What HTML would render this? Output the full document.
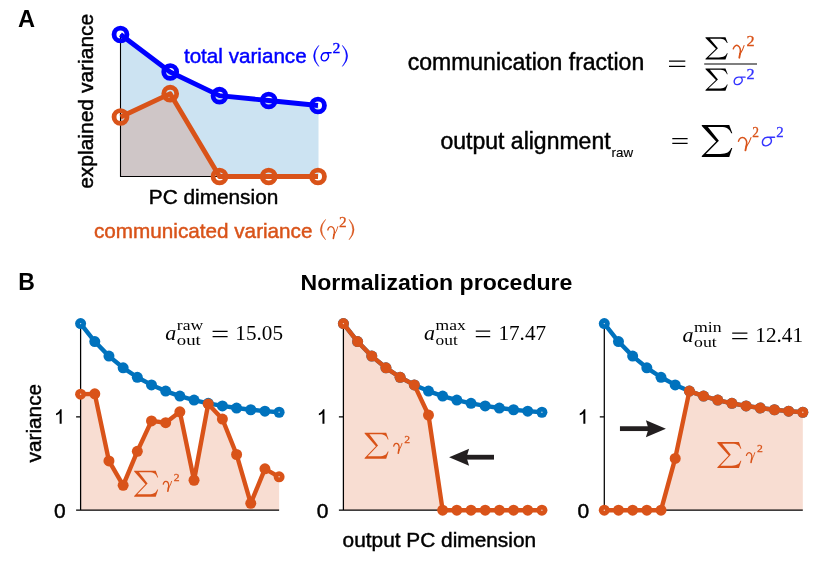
<!DOCTYPE html>
<html><head><meta charset="utf-8"><title>figure</title>
<style>
html,body{margin:0;padding:0;background:#fff;}
body{width:830px;height:567px;overflow:hidden;font-family:"Liberation Sans",sans-serif;}
svg{display:block;will-change:transform;}
</style></head>
<body>
<svg width="830" height="567" viewBox="0 0 830 567">
<rect width="830" height="567" fill="#fff"/>
<polygon points="120.50,34.50 170.20,72.00 219.50,95.70 268.70,100.50 318.50,105.55 318.50,176.50 120.50,176.50" fill="#cce3f2"/>
<polygon points="120.50,117.00 170.20,93.70 219.50,176.50 120.50,176.50" fill="#cfc6c7"/>
<path d="M120.5,34.5 V176.5 H222" fill="none" stroke="#000" stroke-width="1.1"/>
<polyline points="120.50,117.00 170.20,93.70 219.50,176.50 268.70,176.50 318.00,176.50" fill="none" stroke="#d95319" stroke-width="4.8" stroke-linejoin="round"/>
<polyline points="120.50,34.50 170.20,72.00 219.50,95.70 268.70,100.50 318.00,105.50" fill="none" stroke="#0000ff" stroke-width="4.8" stroke-linejoin="round"/>
<circle cx="120.5" cy="117.0" r="6.45" fill="none" stroke="#d95319" stroke-width="4.8"/>
<circle cx="170.2" cy="93.7" r="6.45" fill="none" stroke="#d95319" stroke-width="4.8"/>
<circle cx="219.5" cy="176.5" r="6.45" fill="none" stroke="#d95319" stroke-width="4.8"/>
<circle cx="268.7" cy="176.5" r="6.45" fill="none" stroke="#d95319" stroke-width="4.8"/>
<circle cx="318.0" cy="176.5" r="6.45" fill="none" stroke="#d95319" stroke-width="4.8"/>
<circle cx="120.5" cy="34.5" r="6.45" fill="none" stroke="#0000ff" stroke-width="4.8"/>
<circle cx="170.2" cy="72.0" r="6.45" fill="none" stroke="#0000ff" stroke-width="4.8"/>
<circle cx="219.5" cy="95.7" r="6.45" fill="none" stroke="#0000ff" stroke-width="4.8"/>
<circle cx="268.7" cy="100.5" r="6.45" fill="none" stroke="#0000ff" stroke-width="4.8"/>
<circle cx="318.0" cy="105.5" r="6.45" fill="none" stroke="#0000ff" stroke-width="4.8"/>
<text x="18.10" y="26.70" font-size="23.6" fill="#000" font-family="Liberation Sans, sans-serif" font-weight="bold">A</text>
<text transform="translate(92.6,101.3) rotate(-90)" text-anchor="middle" font-size="21" fill="#000" stroke="#000" stroke-width="0.45" font-family="Liberation Sans, sans-serif">explained variance</text>
<text x="148.80" y="203.80" font-size="20.8" fill="#000" font-family="Liberation Sans, sans-serif"  stroke="#000" stroke-width="0.45">PC dimension</text>
<text x="183.90" y="63.10" font-size="20.65" fill="#0000ff" font-family="Liberation Sans, sans-serif"  stroke="#0000ff" stroke-width="0.45">total variance</text>
<text x="94.00" y="237.80" font-size="20.7" fill="#d95319" font-family="Liberation Sans, sans-serif"  stroke="#d95319" stroke-width="0.45">communicated variance</text>
<path d="M318.80,45.40 Q308.40,55.90 318.80,66.40 Q310.90,55.90 318.80,45.40 Z" fill="#0000ff" stroke="#0000ff" stroke-width="0.5" stroke-linejoin="round"/>
<path d="M331.10,52.76 L325.14,52.76 C322.01,52.76 320.80,56.33 321.40,58.94 C322.01,61.37 325.24,61.55 327.06,59.46 C329.08,57.37 329.08,54.41 327.06,52.85" fill="none" stroke="#0000ff" stroke-width="1.4" stroke-linecap="round" stroke-linejoin="round"/>
<text transform="translate(332.43,52.50) scale(1.143,1)" font-size="13.76" fill="#0000ff" stroke="#0000ff" stroke-width="0.3" font-family="Liberation Serif, serif">2</text>
<path d="M342.40,45.40 Q352.80,55.90 342.40,66.40 Q350.30,55.90 342.40,45.40 Z" fill="#0000ff" stroke="#0000ff" stroke-width="0.5" stroke-linejoin="round"/>
<path d="M325.60,219.40 Q315.20,229.60 325.60,239.80 Q317.70,229.60 325.60,219.40 Z" fill="#d95319" stroke="#d95319" stroke-width="0.5" stroke-linejoin="round"/>
<path d="M327.80,229.98 C328.50,227.18 330.60,225.96 332.30,227.05 C334.20,228.27 334.60,231.93 334.05,234.74" fill="none" stroke="#d95319" stroke-width="1.32" stroke-linecap="round"/>
<path d="M334.05,234.50 L333.35,238.40" fill="none" stroke="#d95319" stroke-width="1.62" stroke-linecap="round"/>
<path d="M337.80,226.69 C337.00,229.86 335.60,232.54 334.20,234.74" fill="none" stroke="#d95319" stroke-width="0.90" stroke-linecap="round"/>
<text transform="translate(339.04,226.50) scale(1.111,1)" font-size="13.76" fill="#d95319" stroke="#d95319" stroke-width="0.3" font-family="Liberation Serif, serif">2</text>
<path d="M349.10,219.40 Q358.90,229.60 349.10,239.80 Q356.40,229.60 349.10,219.40 Z" fill="#d95319" stroke="#d95319" stroke-width="0.5" stroke-linejoin="round"/>
<text x="407.70" y="69.80" font-size="23" fill="#000" font-family="Liberation Sans, sans-serif"  stroke="#000" stroke-width="0.45">communication fraction</text>
<path d="M669.0,61.05 H685.3 M669.0,66.35 H685.3" stroke="#000" stroke-width="1.3" fill="none"/>
<path d="M0,0 L0.90,0 L1,0.26 L0.965,0.26 C0.91,0.12 0.82,0.06 0.62,0.06 L0.20,0.06 L0.56,0.49 L0.131,0.905 L0.60,0.905 C0.83,0.905 0.91,0.84 0.965,0.72 L1,0.72 L0.90,1 L0,1 L0,0.97 L0.47,0.515 L0,0.03 Z" fill="#000" transform="translate(705.50,37.30) scale(22.200,22.200)"/>
<path d="M733.27,48.86 C734.03,45.90 736.31,44.62 738.16,45.77 C740.22,47.06 740.65,50.91 740.06,53.87" fill="none" stroke="#d95319" stroke-width="1.49" stroke-linecap="round"/>
<path d="M740.06,53.61 L739.30,57.73" fill="none" stroke="#d95319" stroke-width="1.82" stroke-linecap="round"/>
<path d="M744.12,45.39 C743.26,48.73 741.74,51.56 740.22,53.87" fill="none" stroke="#d95319" stroke-width="1.01" stroke-linecap="round"/>
<text transform="translate(746.61,46.00) scale(1.176,1)" font-size="13.76" fill="#d95319" stroke="#d95319" stroke-width="0.3" font-family="Liberation Serif, serif">2</text>
<path d="M704.2,64 H757" stroke="#000" stroke-width="1.2"/>
<path d="M0,0 L0.90,0 L1,0.26 L0.965,0.26 C0.91,0.12 0.82,0.06 0.62,0.06 L0.20,0.06 L0.56,0.49 L0.131,0.905 L0.60,0.905 C0.83,0.905 0.91,0.84 0.965,0.72 L1,0.72 L0.90,1 L0,1 L0,0.97 L0.47,0.515 L0,0.03 Z" fill="#000" transform="translate(705.50,68.50) scale(22.200,22.200)"/>
<path d="M745.10,77.14 L738.49,77.14 C735.02,77.14 733.68,80.42 734.35,82.82 C735.02,85.06 738.60,85.22 740.62,83.30 C742.86,81.38 742.86,78.66 740.62,77.22" fill="none" stroke="#3333ff" stroke-width="1.4" stroke-linecap="round" stroke-linejoin="round"/>
<text transform="translate(746.61,78.80) scale(1.176,1)" font-size="13.76" fill="#3333ff" stroke="#3333ff" stroke-width="0.3" font-family="Liberation Serif, serif">2</text>
<text x="440.50" y="148.70" font-size="23" fill="#000" font-family="Liberation Sans, sans-serif"  stroke="#000" stroke-width="0.45">output alignment</text>
<text x="611.6" y="156.6" font-size="13.3" fill="#000" stroke="#000" stroke-width="0.15" font-family="Liberation Sans, sans-serif">raw</text>
<path d="M672.3,138.60 H687.6 M672.3,143.40 H687.6" stroke="#000" stroke-width="1.25" fill="none"/>
<path d="M0,0 L0.90,0 L1,0.26 L0.965,0.26 C0.91,0.12 0.82,0.06 0.62,0.06 L0.20,0.06 L0.56,0.49 L0.131,0.905 L0.60,0.905 C0.83,0.905 0.91,0.84 0.965,0.72 L1,0.72 L0.90,1 L0,1 L0,0.97 L0.47,0.515 L0,0.03 Z" fill="#000" transform="translate(701.80,125.00) scale(30.500,32.000)"/>
<path d="M738.50,141.15 C739.38,138.07 742.00,136.73 744.12,137.94 C746.50,139.28 747.00,143.30 746.31,146.38" fill="none" stroke="#d95319" stroke-width="1.54" stroke-linecap="round"/>
<path d="M746.31,146.11 L745.44,150.40" fill="none" stroke="#d95319" stroke-width="1.89" stroke-linecap="round"/>
<path d="M751.00,137.54 C750.00,141.02 748.25,143.97 746.50,146.38" fill="none" stroke="#d95319" stroke-width="1.05" stroke-linecap="round"/>
<text transform="translate(752.20,136.80) scale(0.940,1)" font-size="14.35" fill="#d95319" stroke="#d95319" stroke-width="0.3" font-family="Liberation Serif, serif">2</text>
<path d="M774.57,137.30 L767.23,137.30 C763.37,137.30 761.88,141.05 762.62,143.80 C763.37,146.36 767.35,146.54 769.59,144.34 C772.08,142.15 772.08,139.04 769.59,137.39" fill="none" stroke="#3333ff" stroke-width="1.45" stroke-linecap="round" stroke-linejoin="round"/>
<text transform="translate(776.16,136.80) scale(1.034,1)" font-size="14.35" fill="#3333ff" stroke="#3333ff" stroke-width="0.3" font-family="Liberation Serif, serif">2</text>
<text x="18.20" y="290.00" font-size="23" fill="#000" font-family="Liberation Sans, sans-serif" font-weight="bold">B</text>
<text transform="translate(300.5,289.6) scale(1.036,1)" font-size="22.3" font-weight="bold" fill="#000" font-family="Liberation Sans, sans-serif">Normalization procedure</text>
<polygon points="80.60,394.13 94.78,393.85 108.96,460.94 123.14,485.29 137.32,451.33 151.50,420.91 165.68,422.73 179.86,411.86 194.04,480.25 208.22,403.93 222.40,419.05 236.58,454.50 250.76,503.30 264.94,468.87 279.12,476.80 279.12,510.20 80.60,510.20" fill="#f8ddd2"/>
<path d="M80.6,323.60 V510.2 H279.12 M76.1,510.2 H80.6 M76.1,416.9 H80.6" fill="none" stroke="#000" stroke-width="1.25"/>
<polyline points="80.60,323.60 94.78,341.58 108.96,356.10 123.14,367.82 137.32,377.28 151.50,384.92 165.68,391.08 179.86,396.06 194.04,400.08 208.22,403.32 222.40,405.94 236.58,408.05 250.76,409.76 264.94,411.13 279.12,412.24" fill="none" stroke="#0072bd" stroke-width="4.4" stroke-linejoin="round"/>
<circle cx="80.60" cy="323.60" r="5.5" fill="#0072bd"/><circle cx="80.60" cy="323.60" r="0.7" fill="#c9dcea"/>
<circle cx="94.78" cy="341.58" r="5.5" fill="#0072bd"/>
<circle cx="108.96" cy="356.10" r="5.5" fill="#0072bd"/>
<circle cx="123.14" cy="367.82" r="5.5" fill="#0072bd"/>
<circle cx="137.32" cy="377.28" r="5.5" fill="#0072bd"/>
<circle cx="151.50" cy="384.92" r="5.5" fill="#0072bd"/>
<circle cx="165.68" cy="391.08" r="5.5" fill="#0072bd"/>
<circle cx="179.86" cy="396.06" r="5.5" fill="#0072bd"/>
<circle cx="194.04" cy="400.08" r="5.5" fill="#0072bd"/>
<circle cx="208.22" cy="403.32" r="5.5" fill="#0072bd"/>
<circle cx="222.40" cy="405.94" r="5.5" fill="#0072bd"/>
<circle cx="236.58" cy="408.05" r="5.5" fill="#0072bd"/>
<circle cx="250.76" cy="409.76" r="5.5" fill="#0072bd"/>
<circle cx="264.94" cy="411.13" r="5.5" fill="#0072bd"/>
<circle cx="279.12" cy="412.24" r="5.5" fill="#0072bd"/><circle cx="279.12" cy="412.24" r="0.7" fill="#c9dcea"/>
<polyline points="80.60,394.13 94.78,393.85 108.96,460.94 123.14,485.29 137.32,451.33 151.50,420.91 165.68,422.73 179.86,411.86 194.04,480.25 208.22,403.93 222.40,419.05 236.58,454.50 250.76,503.30 264.94,468.87 279.12,476.80" fill="none" stroke="#d95319" stroke-width="4.4" stroke-linejoin="round"/>
<circle cx="80.60" cy="394.13" r="5.5" fill="#d95319"/><circle cx="80.60" cy="394.13" r="0.7" fill="#f3d9cc"/>
<circle cx="94.78" cy="393.85" r="5.5" fill="#d95319"/>
<circle cx="108.96" cy="460.94" r="5.5" fill="#d95319"/>
<circle cx="123.14" cy="485.29" r="5.5" fill="#d95319"/>
<circle cx="137.32" cy="451.33" r="5.5" fill="#d95319"/>
<circle cx="151.50" cy="420.91" r="5.5" fill="#d95319"/>
<circle cx="165.68" cy="422.73" r="5.5" fill="#d95319"/>
<circle cx="179.86" cy="411.86" r="5.5" fill="#d95319"/>
<circle cx="194.04" cy="480.25" r="5.5" fill="#d95319"/>
<circle cx="208.22" cy="403.93" r="5.5" fill="#d95319"/>
<circle cx="222.40" cy="419.05" r="5.5" fill="#d95319"/>
<circle cx="236.58" cy="454.50" r="5.5" fill="#d95319"/>
<circle cx="250.76" cy="503.30" r="5.5" fill="#d95319"/>
<circle cx="264.94" cy="468.87" r="5.5" fill="#d95319"/>
<circle cx="279.12" cy="476.80" r="5.5" fill="#d95319"/><circle cx="279.12" cy="476.80" r="0.7" fill="#f3d9cc"/>
<path d="M61.65,409.15 V423.75 H59.65 V413.25 C58.75,414.05 57.45,414.85 56.05,415.35 V413.55 C58.05,412.65 59.65,411.05 60.30,409.15 Z" fill="#000"/>
<text x="65.60" y="517.55" text-anchor="end" font-size="21" fill="#000" stroke="#000" stroke-width="0.45" font-family="Liberation Sans, sans-serif">0</text>
<polygon points="343.40,323.60 357.58,341.58 371.76,356.10 385.94,367.82 400.12,377.28 414.30,384.92 428.48,415.03 442.66,510.20 456.84,510.20 471.02,510.20 485.20,510.20 499.38,510.20 513.56,510.20 527.74,510.20 541.92,510.20 541.92,510.20 343.40,510.20" fill="#f8ddd2"/>
<path d="M343.4,323.60 V510.2 H541.92 M338.9,510.2 H343.4 M338.9,416.9 H343.4" fill="none" stroke="#000" stroke-width="1.25"/>
<polyline points="343.40,323.60 357.58,341.58 371.76,356.10 385.94,367.82 400.12,377.28 414.30,384.92 428.48,391.08 442.66,396.06 456.84,400.08 471.02,403.32 485.20,405.94 499.38,408.05 513.56,409.76 527.74,411.13 541.92,412.24" fill="none" stroke="#0072bd" stroke-width="4.4" stroke-linejoin="round"/>
<circle cx="343.40" cy="323.60" r="5.5" fill="#0072bd"/><circle cx="343.40" cy="323.60" r="0.7" fill="#c9dcea"/>
<circle cx="357.58" cy="341.58" r="5.5" fill="#0072bd"/>
<circle cx="371.76" cy="356.10" r="5.5" fill="#0072bd"/>
<circle cx="385.94" cy="367.82" r="5.5" fill="#0072bd"/>
<circle cx="400.12" cy="377.28" r="5.5" fill="#0072bd"/>
<circle cx="414.30" cy="384.92" r="5.5" fill="#0072bd"/>
<circle cx="428.48" cy="391.08" r="5.5" fill="#0072bd"/>
<circle cx="442.66" cy="396.06" r="5.5" fill="#0072bd"/>
<circle cx="456.84" cy="400.08" r="5.5" fill="#0072bd"/>
<circle cx="471.02" cy="403.32" r="5.5" fill="#0072bd"/>
<circle cx="485.20" cy="405.94" r="5.5" fill="#0072bd"/>
<circle cx="499.38" cy="408.05" r="5.5" fill="#0072bd"/>
<circle cx="513.56" cy="409.76" r="5.5" fill="#0072bd"/>
<circle cx="527.74" cy="411.13" r="5.5" fill="#0072bd"/>
<circle cx="541.92" cy="412.24" r="5.5" fill="#0072bd"/><circle cx="541.92" cy="412.24" r="0.7" fill="#c9dcea"/>
<polyline points="343.40,323.60 357.58,341.58 371.76,356.10 385.94,367.82 400.12,377.28 414.30,384.92 428.48,415.03 442.66,510.20 456.84,510.20 471.02,510.20 485.20,510.20 499.38,510.20 513.56,510.20 527.74,510.20 541.92,510.20" fill="none" stroke="#d95319" stroke-width="4.4" stroke-linejoin="round"/>
<circle cx="343.40" cy="323.60" r="5.5" fill="#d95319"/><circle cx="343.40" cy="323.60" r="0.7" fill="#f3d9cc"/>
<circle cx="357.58" cy="341.58" r="5.5" fill="#d95319"/>
<circle cx="371.76" cy="356.10" r="5.5" fill="#d95319"/>
<circle cx="385.94" cy="367.82" r="5.5" fill="#d95319"/>
<circle cx="400.12" cy="377.28" r="5.5" fill="#d95319"/>
<circle cx="414.30" cy="384.92" r="5.5" fill="#d95319"/>
<circle cx="428.48" cy="415.03" r="5.5" fill="#d95319"/>
<circle cx="442.66" cy="510.20" r="5.5" fill="#d95319"/>
<circle cx="456.84" cy="510.20" r="5.5" fill="#d95319"/>
<circle cx="471.02" cy="510.20" r="5.5" fill="#d95319"/>
<circle cx="485.20" cy="510.20" r="5.5" fill="#d95319"/>
<circle cx="499.38" cy="510.20" r="5.5" fill="#d95319"/>
<circle cx="513.56" cy="510.20" r="5.5" fill="#d95319"/>
<circle cx="527.74" cy="510.20" r="5.5" fill="#d95319"/>
<circle cx="541.92" cy="510.20" r="5.5" fill="#d95319"/><circle cx="541.92" cy="510.20" r="0.7" fill="#f3d9cc"/>
<path d="M324.45,409.15 V423.75 H322.45 V413.25 C321.55,414.05 320.25,414.85 318.85,415.35 V413.55 C320.85,412.65 322.45,411.05 323.10,409.15 Z" fill="#000"/>
<text x="328.40" y="517.55" text-anchor="end" font-size="21" fill="#000" stroke="#000" stroke-width="0.45" font-family="Liberation Sans, sans-serif">0</text>
<polygon points="604.30,510.20 618.48,510.20 632.66,510.20 646.84,510.20 661.02,510.20 675.20,458.42 689.38,391.08 703.56,396.06 717.74,400.08 731.92,403.32 746.10,405.94 760.28,408.05 774.46,409.76 788.64,411.13 802.82,412.24 802.82,510.20 604.30,510.20" fill="#f8ddd2"/>
<path d="M604.3,323.60 V510.2 H802.82 M599.8,510.2 H604.3 M599.8,416.9 H604.3" fill="none" stroke="#000" stroke-width="1.25"/>
<polyline points="604.30,323.60 618.48,341.58 632.66,356.10 646.84,367.82 661.02,377.28 675.20,384.92 689.38,391.08 703.56,396.06 717.74,400.08 731.92,403.32 746.10,405.94 760.28,408.05 774.46,409.76 788.64,411.13 802.82,412.24" fill="none" stroke="#0072bd" stroke-width="4.4" stroke-linejoin="round"/>
<circle cx="604.30" cy="323.60" r="5.5" fill="#0072bd"/><circle cx="604.30" cy="323.60" r="0.7" fill="#c9dcea"/>
<circle cx="618.48" cy="341.58" r="5.5" fill="#0072bd"/>
<circle cx="632.66" cy="356.10" r="5.5" fill="#0072bd"/>
<circle cx="646.84" cy="367.82" r="5.5" fill="#0072bd"/>
<circle cx="661.02" cy="377.28" r="5.5" fill="#0072bd"/>
<circle cx="675.20" cy="384.92" r="5.5" fill="#0072bd"/>
<circle cx="689.38" cy="391.08" r="5.5" fill="#0072bd"/>
<circle cx="703.56" cy="396.06" r="5.5" fill="#0072bd"/>
<circle cx="717.74" cy="400.08" r="5.5" fill="#0072bd"/>
<circle cx="731.92" cy="403.32" r="5.5" fill="#0072bd"/>
<circle cx="746.10" cy="405.94" r="5.5" fill="#0072bd"/>
<circle cx="760.28" cy="408.05" r="5.5" fill="#0072bd"/>
<circle cx="774.46" cy="409.76" r="5.5" fill="#0072bd"/>
<circle cx="788.64" cy="411.13" r="5.5" fill="#0072bd"/>
<circle cx="802.82" cy="412.24" r="5.5" fill="#0072bd"/><circle cx="802.82" cy="412.24" r="0.7" fill="#c9dcea"/>
<polyline points="604.30,510.20 618.48,510.20 632.66,510.20 646.84,510.20 661.02,510.20 675.20,458.42 689.38,391.08 703.56,396.06 717.74,400.08 731.92,403.32 746.10,405.94 760.28,408.05 774.46,409.76 788.64,411.13 802.82,412.24" fill="none" stroke="#d95319" stroke-width="4.4" stroke-linejoin="round"/>
<circle cx="604.30" cy="510.20" r="5.5" fill="#d95319"/><circle cx="604.30" cy="510.20" r="0.7" fill="#f3d9cc"/>
<circle cx="618.48" cy="510.20" r="5.5" fill="#d95319"/>
<circle cx="632.66" cy="510.20" r="5.5" fill="#d95319"/>
<circle cx="646.84" cy="510.20" r="5.5" fill="#d95319"/>
<circle cx="661.02" cy="510.20" r="5.5" fill="#d95319"/>
<circle cx="675.20" cy="458.42" r="5.5" fill="#d95319"/>
<circle cx="689.38" cy="391.08" r="5.5" fill="#d95319"/>
<circle cx="703.56" cy="396.06" r="5.5" fill="#d95319"/>
<circle cx="717.74" cy="400.08" r="5.5" fill="#d95319"/>
<circle cx="731.92" cy="403.32" r="5.5" fill="#d95319"/>
<circle cx="746.10" cy="405.94" r="5.5" fill="#d95319"/>
<circle cx="760.28" cy="408.05" r="5.5" fill="#d95319"/>
<circle cx="774.46" cy="409.76" r="5.5" fill="#d95319"/>
<circle cx="788.64" cy="411.13" r="5.5" fill="#d95319"/>
<circle cx="802.82" cy="412.24" r="5.5" fill="#d95319"/><circle cx="802.82" cy="412.24" r="0.7" fill="#f3d9cc"/>
<path d="M585.35,409.15 V423.75 H583.35 V413.25 C582.45,414.05 581.15,414.85 579.75,415.35 V413.55 C581.75,412.65 583.35,411.05 584.00,409.15 Z" fill="#000"/>
<text x="589.30" y="517.55" text-anchor="end" font-size="21" fill="#000" stroke="#000" stroke-width="0.45" font-family="Liberation Sans, sans-serif">0</text>
<text transform="translate(75.0,422) rotate(-90)" text-anchor="middle" font-size="21" fill="#000" font-family="Liberation Sans, sans-serif"></text>
<text transform="translate(40.7,423.2) rotate(-90)" text-anchor="middle" font-size="20.8" fill="#000" stroke="#000" stroke-width="0.45" font-family="Liberation Sans, sans-serif">variance</text>
<text x="342.60" y="547.00" font-size="20.85" fill="#000" font-family="Liberation Sans, sans-serif"  stroke="#000" stroke-width="0.45">output PC dimension</text>
<text x="165.20" y="339.80" font-size="22" fill="#000" font-family="Liberation Serif, serif" font-style="italic">a</text>
<text x="176.80" y="329.90" font-size="15" textLength="26.4" lengthAdjust="spacingAndGlyphs" fill="#000" font-family="Liberation Serif, serif">raw</text>
<text x="176.80" y="344.80" font-size="15" textLength="24.0" lengthAdjust="spacingAndGlyphs" fill="#000" font-family="Liberation Serif, serif">out</text>
<path d="M212.6,331.30 H227.6 M212.6,336.70 H227.6" stroke="#000" stroke-width="1.25" fill="none"/>
<text x="235.30" y="339.80" font-size="21.2" fill="#000" font-family="Liberation Serif, serif" >15.05</text>
<text x="424.00" y="339.70" font-size="22" fill="#000" font-family="Liberation Serif, serif" font-style="italic">a</text>
<text x="435.60" y="329.80" font-size="15" textLength="30.2" lengthAdjust="spacingAndGlyphs" fill="#000" font-family="Liberation Serif, serif">max</text>
<text x="435.60" y="344.70" font-size="15" textLength="22.2" lengthAdjust="spacingAndGlyphs" fill="#000" font-family="Liberation Serif, serif">out</text>
<path d="M475.8,331.20 H490.2 M475.8,336.60 H490.2" stroke="#000" stroke-width="1.25" fill="none"/>
<text x="498.40" y="339.70" font-size="21.2" fill="#000" font-family="Liberation Serif, serif" >17.47</text>
<text x="682.40" y="341.60" font-size="22" fill="#000" font-family="Liberation Serif, serif" font-style="italic">a</text>
<text x="694.00" y="331.70" font-size="15" textLength="27.6" lengthAdjust="spacingAndGlyphs" fill="#000" font-family="Liberation Serif, serif">min</text>
<text x="694.00" y="346.60" font-size="15" textLength="22.7" lengthAdjust="spacingAndGlyphs" fill="#000" font-family="Liberation Serif, serif">out</text>
<path d="M732.2,333.10 H747.4 M732.2,338.50 H747.4" stroke="#000" stroke-width="1.25" fill="none"/>
<text x="755.30" y="341.60" font-size="21.2" fill="#000" font-family="Liberation Serif, serif" >12.41</text>
<path d="M0,0 L0.90,0 L1,0.26 L0.965,0.26 C0.91,0.12 0.82,0.06 0.62,0.06 L0.20,0.06 L0.56,0.49 L0.131,0.905 L0.60,0.905 C0.83,0.905 0.91,0.84 0.965,0.72 L1,0.72 L0.90,1 L0,1 L0,0.97 L0.47,0.515 L0,0.03 Z" fill="#d95319" transform="translate(134.15,470.80) scale(24.000,26.000)"/>
<path d="M163.25,484.11 C163.83,481.77 165.57,480.75 166.98,481.66 C168.56,482.68 168.89,485.74 168.44,488.09" fill="none" stroke="#d95319" stroke-width="1.32" stroke-linecap="round"/>
<path d="M168.44,487.89 L167.86,491.15" fill="none" stroke="#d95319" stroke-width="1.62" stroke-linecap="round"/>
<path d="M171.55,481.36 C170.89,484.01 169.72,486.25 168.56,488.09" fill="none" stroke="#d95319" stroke-width="0.90" stroke-linecap="round"/>
<text transform="translate(173.70,480.55) scale(1.026,1)" font-size="11.39" fill="#d95319" stroke="#d95319" stroke-width="0.25" font-family="Liberation Serif, serif">2</text>
<path d="M0,0 L0.90,0 L1,0.26 L0.965,0.26 C0.91,0.12 0.82,0.06 0.62,0.06 L0.20,0.06 L0.56,0.49 L0.131,0.905 L0.60,0.905 C0.83,0.905 0.91,0.84 0.965,0.72 L1,0.72 L0.90,1 L0,1 L0,0.97 L0.47,0.515 L0,0.03 Z" fill="#d95319" transform="translate(364.60,432.80) scale(24.000,26.000)"/>
<path d="M393.70,446.11 C394.28,443.77 396.02,442.75 397.44,443.66 C399.01,444.68 399.34,447.74 398.89,450.09" fill="none" stroke="#d95319" stroke-width="1.32" stroke-linecap="round"/>
<path d="M398.89,449.89 L398.31,453.15" fill="none" stroke="#d95319" stroke-width="1.62" stroke-linecap="round"/>
<path d="M402.00,443.36 C401.34,446.01 400.17,448.25 399.01,450.09" fill="none" stroke="#d95319" stroke-width="0.90" stroke-linecap="round"/>
<text transform="translate(404.15,442.55) scale(1.026,1)" font-size="11.39" fill="#d95319" stroke="#d95319" stroke-width="0.25" font-family="Liberation Serif, serif">2</text>
<path d="M0,0 L0.90,0 L1,0.26 L0.965,0.26 C0.91,0.12 0.82,0.06 0.62,0.06 L0.20,0.06 L0.56,0.49 L0.131,0.905 L0.60,0.905 C0.83,0.905 0.91,0.84 0.965,0.72 L1,0.72 L0.90,1 L0,1 L0,0.97 L0.47,0.515 L0,0.03 Z" fill="#d95319" transform="translate(717.35,442.10) scale(24.000,26.000)"/>
<path d="M746.45,455.41 C747.03,453.07 748.77,452.05 750.18,452.96 C751.76,453.98 752.09,457.04 751.64,459.39" fill="none" stroke="#d95319" stroke-width="1.32" stroke-linecap="round"/>
<path d="M751.64,459.19 L751.06,462.45" fill="none" stroke="#d95319" stroke-width="1.62" stroke-linecap="round"/>
<path d="M754.75,452.66 C754.09,455.31 752.92,457.55 751.76,459.39" fill="none" stroke="#d95319" stroke-width="0.90" stroke-linecap="round"/>
<text transform="translate(756.90,451.85) scale(1.026,1)" font-size="11.39" fill="#d95319" stroke="#d95319" stroke-width="0.25" font-family="Liberation Serif, serif">2</text>
<path d="M494.0,457.2 H466.00" stroke="#231f20" stroke-width="4.8" fill="none"/>
<path d="M449.1,457.2 L469.10,448.7 L466.50,457.2 L469.10,465.7 Z" fill="#231f20"/>
<path d="M619.95,428.65 H649.00" stroke="#231f20" stroke-width="4.8" fill="none"/>
<path d="M665.9,428.65 L645.90,420.15 L648.50,428.65 L645.90,437.15 Z" fill="#231f20"/>
</svg>
</body></html>
